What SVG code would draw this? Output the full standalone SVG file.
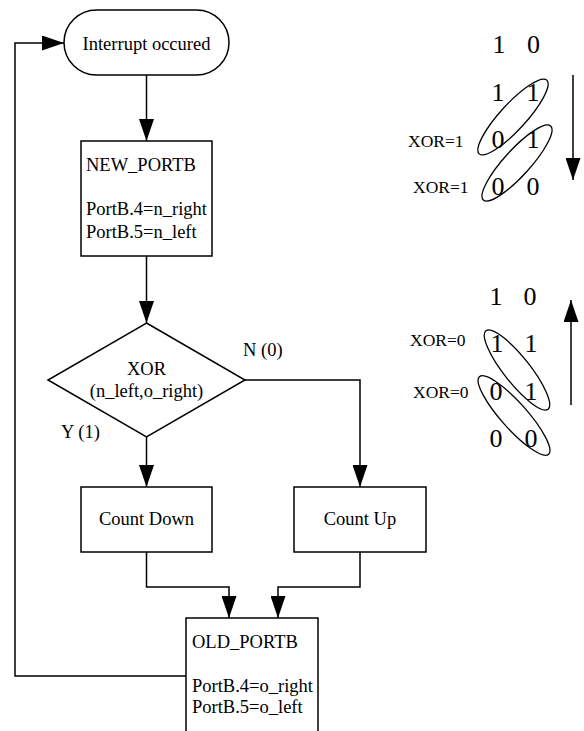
<svg xmlns="http://www.w3.org/2000/svg" width="584" height="731" viewBox="0 0 584 731">
  <style>
    .shape { fill: #fff; stroke: #000; stroke-width: 1.5; }
    .wire { fill: none; stroke: #000; stroke-width: 1.5; }
    .ring { fill: none; stroke: #000; stroke-width: 1.3; }
    text { font-family: "Liberation Serif", "Times New Roman", serif; font-size: 18.5px; fill: #000; }
    .mid { text-anchor: middle; }
    .bit { font-size: 26px; text-anchor: middle; }
    .tag { font-size: 17.5px; }
  </style>
  <defs>
    <marker id="arrow" markerUnits="userSpaceOnUse" markerWidth="22" markerHeight="15" refX="22" refY="7.5" orient="auto">
      <path d="M0,0 L22,7.5 L0,15 Z" fill="#000"/>
    </marker>
  </defs>

  <!-- flow connectors -->
  <g id="connectors">
    <path class="wire" d="M146.5,75 V141" marker-end="url(#arrow)"/>
    <path class="wire" d="M146.5,256 V323" marker-end="url(#arrow)"/>
    <path class="wire" d="M146.5,437 V487" marker-end="url(#arrow)"/>
    <path class="wire" d="M245,380 H360 V487" marker-end="url(#arrow)"/>
    <path class="wire" d="M146.5,552 V587 H229 V618" marker-end="url(#arrow)"/>
    <path class="wire" d="M360,552 V587 H278 V618" marker-end="url(#arrow)"/>
    <path class="wire" d="M186,676 H15 V43 H64" marker-end="url(#arrow)"/>
  </g>

  <g id="start">
    <rect class="shape" x="64" y="10" width="165" height="65" rx="32.5" ry="32.5"/>
    <text class="mid" x="146.5" y="50">Interrupt occured</text>
  </g>

  <g id="new-portb">
    <rect class="shape" x="81" y="141" width="131" height="115"/>
    <text x="86" y="171">NEW_PORTB</text>
    <text x="86" y="215">PortB.4=n_right</text>
    <text x="86" y="238">PortB.5=n_left</text>
  </g>

  <g id="xor-test">
    <polygon class="shape" points="146.5,323 245,380 146.5,437 48,380"/>
    <text class="mid" x="146.5" y="375">XOR</text>
    <text class="mid" x="146.5" y="397">(n_left,o_right)</text>
    <text x="243" y="356">N (0)</text>
    <text x="61" y="438">Y (1)</text>
  </g>

  <g id="count-down">
    <rect class="shape" x="81" y="487" width="131" height="65"/>
    <text class="mid" x="146.5" y="525">Count Down</text>
  </g>

  <g id="count-up">
    <rect class="shape" x="294" y="487" width="132" height="65"/>
    <text class="mid" x="360" y="525">Count Up</text>
  </g>

  <g id="old-portb">
    <rect class="shape" x="186" y="618" width="132" height="130"/>
    <text x="192" y="648">OLD_PORTB</text>
    <text x="192" y="692">PortB.4=o_right</text>
    <text x="192" y="713">PortB.5=o_left</text>
  </g>

  <!-- rotation sequence, counting down -->
  <g id="sequence-down">
    <text class="bit" x="499" y="53">1</text>
    <text class="bit" x="533.5" y="53">0</text>
    <text class="bit" x="498" y="101">1</text>
    <text class="bit" x="533" y="101">1</text>
    <text class="bit" x="498" y="148">0</text>
    <text class="bit" x="533" y="148">1</text>
    <text class="bit" x="498" y="195">0</text>
    <text class="bit" x="533" y="195">0</text>
    <text class="tag" x="408" y="147">XOR=1</text>
    <text class="tag" x="413" y="193">XOR=1</text>
    <ellipse class="ring" cx="513" cy="117" rx="50" ry="13" transform="rotate(-47.5 513 117)"/>
    <ellipse class="ring" cx="517" cy="163" rx="50" ry="13" transform="rotate(-47.7 517 163)"/>
    <path class="wire" d="M573,75 V180" marker-end="url(#arrow)"/>
  </g>

  <!-- rotation sequence, counting up -->
  <g id="sequence-up">
    <text class="bit" x="496" y="305">1</text>
    <text class="bit" x="530" y="305">0</text>
    <text class="bit" x="497" y="352">1</text>
    <text class="bit" x="531" y="352">1</text>
    <text class="bit" x="496" y="400">0</text>
    <text class="bit" x="531" y="400">1</text>
    <text class="bit" x="496" y="447">0</text>
    <text class="bit" x="531" y="447">0</text>
    <text class="tag" x="410" y="346">XOR=0</text>
    <text class="tag" x="413" y="398">XOR=0</text>
    <ellipse class="ring" cx="517" cy="370" rx="50" ry="13" transform="rotate(51.6 517 370)"/>
    <ellipse class="ring" cx="514" cy="415.5" rx="52" ry="13" transform="rotate(48.3 514 415.5)"/>
    <path class="wire" d="M571,405 V300" marker-end="url(#arrow)"/>
  </g>
</svg>
